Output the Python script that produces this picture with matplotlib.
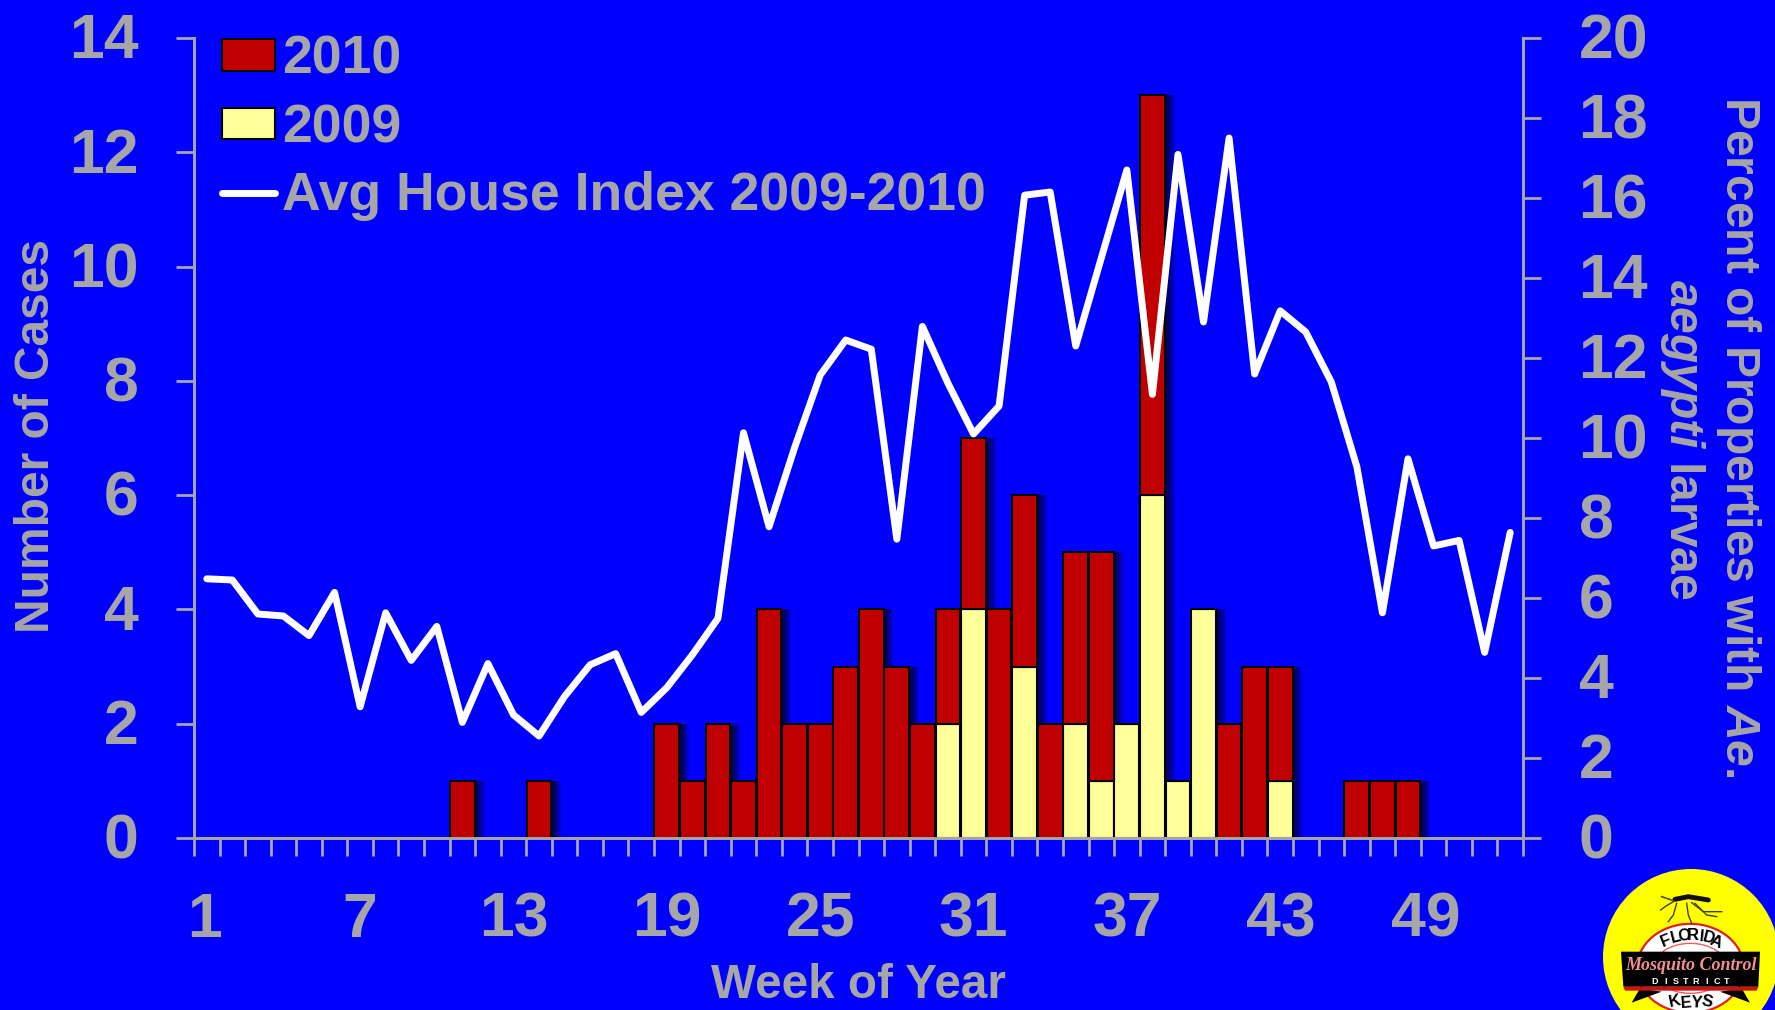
#!/usr/bin/env python3
import numpy as np
import matplotlib
matplotlib.use("Agg")
import matplotlib.pyplot as plt
from matplotlib.lines import Line2D
from matplotlib.patches import Ellipse, Patch, Polygon
from matplotlib.transforms import ScaledTranslation

weeks = list(range(1, 53))
cases_2009 = [0] * 29 + [2, 4, 0, 3, 0, 2, 1, 2, 6, 1, 4, 0, 0, 1] + [0] * 9
cases_2010 = ([0] * 10 + [1, 0, 0, 1, 0, 0, 0, 0, 2, 1, 2, 1, 4, 2, 2, 3, 4, 3, 2]
              + [2, 3, 4, 3, 2, 3, 4, 0, 7, 0, 0, 2, 3, 2, 0, 0, 1, 1, 1, 0, 0, 0, 0])
house_index = [6.48, 6.45, 5.6, 5.55, 5.06, 6.14, 3.28, 5.63, 4.44, 5.29,
               2.89, 4.36, 3.08, 2.55, 3.54, 4.33, 4.61, 3.14, 3.76, 4.58,
               5.49, 10.13, 7.78, 9.76, 11.57, 12.45, 12.22, 7.47, 12.79, 11.37,
               10.1, 10.8, 16.07, 16.15, 12.3, 14.5, 16.7, 11.09, 17.09, 12.9,
               17.5, 11.6, 13.18, 12.65, 11.4, 9.28, 5.63, 9.48, 7.3, 7.44,
               4.64, 7.64]
week_labels = [1, 7, 13, 19, 25, 31, 37, 43, 49]

BLUE = "#0000FF"
GREY = "#A6A6A6"
RED = "#C00000"
YELLOW = "#FFFF99"

plt.rcParams["font.family"] = ["Liberation Sans", "DejaVu Sans"]
plt.rcParams["font.weight"] = "bold"
plt.rcParams["mathtext.fontset"] = "custom"
plt.rcParams["mathtext.it"] = "Liberation Sans:italic:bold"
plt.rcParams["mathtext.rm"] = "Liberation Sans:bold"

W, H = 1775, 1010
fig = plt.figure(figsize=(W / 100, H / 100), dpi=100, facecolor=BLUE)
ax = fig.add_axes([194 / W, 1 - 838 / H, (1523 - 194) / W, (838 - 38) / H])
ax.set_facecolor(BLUE)
ax2 = ax.twinx()

x = np.array(weeks, dtype=float)
a = np.array(cases_2009)
b = np.array(cases_2010)
total = a + b
bar_w = 0.97

# soft shadow to the right of the bars
px = 1 / 25.55
for k in range(1, 10):
    ax.bar(x - bar_w / 2, total, width=bar_w + k * 1.1 * px, align="edge",
           color="black", alpha=0.12, linewidth=0, zorder=1)
ax.bar(x, a, width=bar_w, color=YELLOW, edgecolor="black", linewidth=1.5, zorder=2)
ax.bar(x, b, width=bar_w, bottom=a, color=RED, edgecolor="black", linewidth=1.5, zorder=2)

ax.set_xlim(0.5, 52.5)
ax.set_ylim(0, 14)
ax2.set_ylim(0, 20)
ax2.plot(x, house_index, color="white", lw=5, solid_joinstyle="round",
         solid_capstyle="round", zorder=5)

for side in ["top"]:
    ax.spines[side].set_visible(False)
    ax2.spines[side].set_visible(False)
for a_ in [ax, ax2]:
    for s in a_.spines.values():
        s.set_color(GREY)
        s.set_linewidth(2)

ax.set_xticks(np.arange(0.5, 53, 1))
ax.set_xticklabels([])
ax.set_xticks(week_labels, minor=True)
ax.set_xticklabels([str(w) for w in week_labels], minor=True)
ax.tick_params(axis="x", which="major", length=13, width=2, color=GREY)
ax.tick_params(axis="x", which="minor", length=0, pad=38, labelsize=45, labelcolor=GREY)
ax.set_yticks(range(0, 15, 2))
ax.tick_params(axis="y", length=13, width=2, color=GREY, pad=27, labelsize=45, labelcolor=GREY)
ax2.set_yticks(range(0, 21, 2))
ax2.tick_params(axis="y", length=13, width=2, color=GREY, pad=27, labelsize=45, labelcolor=GREY)

# small nudges so the tick labels sit where the slide has them
up = ScaledTranslation(0, 2.5 / 100, fig.dpi_scale_trans)
for lab in ax.get_yticklabels() + ax2.get_yticklabels():
    lab.set_transform(lab.get_transform() + up)
for lab, dx in zip(ax.get_xticklabels(minor=True), [-2, 0, 0, 0, 0, 0, 0, 1, -8]):
    lab.set_transform(lab.get_transform() + ScaledTranslation(dx / 100, 0, fig.dpi_scale_trans))

fig.text(37 / W, 1 - 436 / H, "Number of Cases", rotation=90, color=GREY,
         fontsize=34.5, ha="center", va="center")
fig.text(858 / W, 1 - 985 / H, "Week of Year", color=GREY, fontsize=34.3,
         ha="center", va="center")
fig.text(1738 / W, 1 - 437 / H, r"Percent of Properties with $\mathit{Ae.}$", rotation=270,
         color=GREY, fontsize=34.6, ha="center", va="center")
fig.text(1683 / W, 1 - 439 / H, r"$\mathit{aegypti}$ larvae", rotation=270,
         color=GREY, fontsize=34.6, ha="center", va="center")

handles = [Patch(facecolor=RED, edgecolor="black", linewidth=1.5, label="2010"),
           Patch(facecolor=YELLOW, edgecolor="black", linewidth=1.5, label="2009"),
           Line2D([], [], color="white", lw=5, solid_capstyle="round",
                  label="Avg House Index 2009-2010")]
leg = ax2.legend(handles=handles, loc="upper left", bbox_to_anchor=(222 / W, 1 - 35 / H),
                 bbox_transform=fig.transFigure, frameon=False, fontsize=38.5,
                 handlelength=1.0, handleheight=0.52, handletextpad=0.12,
                 labelspacing=0.34, borderpad=0, borderaxespad=0)
for t in leg.get_texts():
    t.set_color(GREY)

# logo, laid out in figure pixels
logo = fig.add_axes([0, 0, 1, 1], facecolor="none")
logo.set_xlim(0, W)
logo.set_ylim(H, 0)
logo.axis("off")


def lx(v):
    return 1560 + v / 3


def ly(v):
    return 840 + v / 3


logo.add_patch(Ellipse((1691, 957), 176, 176, color="#FFFF00", lw=0))
logo.add_patch(Ellipse((lx(391), ly(385)), 107, 89, facecolor="white", edgecolor="#E02020", lw=1.6))
logo.add_patch(Ellipse((lx(391), ly(385)), 74, 50, facecolor="none", edgecolor="#E86060", lw=1))
for pts in ([(215, 488), (240, 445), (305, 455)], [(570, 488), (545, 445), (480, 455)]):
    logo.add_patch(Polygon([(lx(p), ly(q)) for p, q in pts], color="black", lw=0))
logo.add_patch(Polygon([(lx(p), ly(q)) for p, q in [(190, 440), (595, 440), (590, 452), (195, 452)]],
                       color="#D01010", lw=0))
logo.add_patch(Polygon([(lx(p), ly(q)) for p, q in [(183, 335), (600, 335), (595, 440), (190, 440)]],
                       color="black", lw=0))
logo.text(lx(392), ly(375), "Mosquito Control", family="Liberation Serif", style="italic",
          color="#F09090", fontsize=13, ha="center", va="center")
for ch, cx in zip("DISTRICT", np.linspace(285, 500, 8)):
    logo.text(lx(cx), ly(423), ch, color="white", fontsize=6.5, ha="center", va="center")
for ch, cx, cy, rot in zip("FLORIDA", [318, 347, 373, 400, 425, 445, 468],
                           [302, 293, 289, 287, 289, 295, 305], [22, 14, 6, 0, -6, -14, -22]):
    logo.text(lx(cx), ly(cy), ch, color="black", fontsize=12, rotation=rot, ha="center", va="center")
for ch, cx, cy, rot in zip("KEYS", [345, 378, 410, 440], [484, 488, 488, 484], [12, 4, -4, -12]):
    logo.text(lx(cx), ly(cy), ch, color="black", fontsize=12, rotation=rot, ha="center", va="center")

# mosquito
logo.plot([lx(345), lx(385), lx(445)], [ly(178), ly(170), ly(180)], color="#101010", lw=3.5,
          solid_capstyle="round")
logo.plot([lx(305), lx(340)], [ly(170), ly(182)], color="#505030", lw=1.2)
for path in ([(350, 190), (340, 225), (325, 245)], [(380, 190), (385, 225), (395, 250)],
             [(395, 188), (430, 215), (485, 215)], [(405, 190), (440, 225), (470, 230)],
             [(340, 185), (315, 200), (302, 210)]):
    logo.plot([lx(p) for p, q in path], [ly(q) for p, q in path], color="#404020", lw=1)

fig.savefig("out.png", dpi=100, facecolor=BLUE)
